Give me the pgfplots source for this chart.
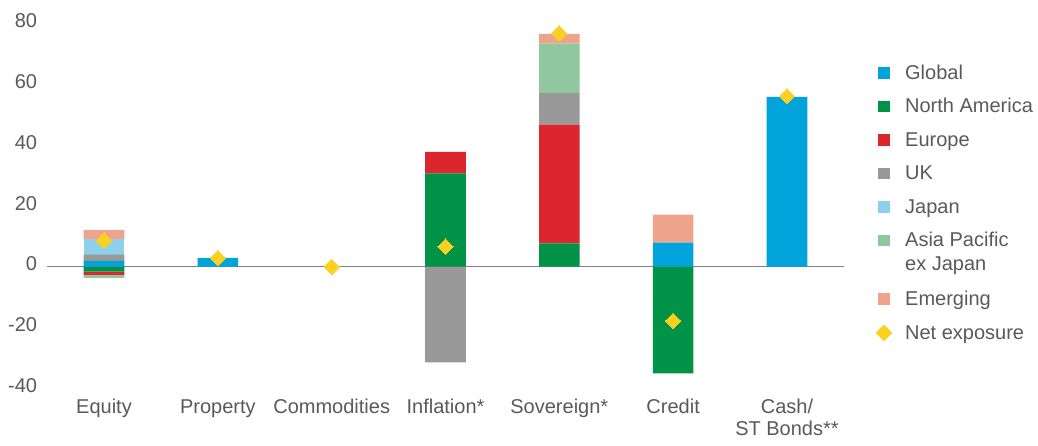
\documentclass[border=0pt]{standalone}
\usepackage{fontspec}
\setmainfont{Liberation Sans}
\usepackage{pgfplots}
\pgfplotsset{compat=1.18}
\definecolor{cglobal}{HTML}{00A3DA}
\definecolor{cna}{HTML}{009247}
\definecolor{ceu}{HTML}{DA262C}
\definecolor{cuk}{HTML}{999999}
\definecolor{cjp}{HTML}{8DD0EC}
\definecolor{cap}{HTML}{8FC89F}
\definecolor{cem}{HTML}{EDA48A}
\definecolor{netc}{HTML}{FCD022}
\definecolor{textc}{HTML}{595959}
\definecolor{zeroc}{HTML}{808080}
\pgfplotsset{sqlegend/.style={legend image code/.code={\fill[##1] (0pt,0.5pt) rectangle (12pt,12pt);}}}
\begin{document}
\fontsize{20}{22}\selectfont
\begin{tikzpicture}
\useasboundingbox (-47.1pt,-57.7pt) rectangle (990.9pt,388.3pt);
\begin{axis}[
  at={(0pt,0pt)}, anchor=south west, scale only axis,
  width=796.8pt, height=364.8pt,
  ybar stacked, stack negative=separate, bar width=40.6pt,
  xmin=-0.5, xmax=6.5, ymin=-40, ymax=80,
  xtick={0,1,2,3,4,5,6},
  xticklabels={Equity,Property,Commodities,Inflation*,Sovereign*,Credit,{\begin{tabular}[t]{@{}c@{}}Cash/\\ST Bonds**\end{tabular}}},
  ytick={-40,-20,0,20,40,60,80},
  axis line style={draw=none}, major tick length=0pt,
  tick label style={font=\fontsize{20}{22}\selectfont, text=textc},
  xticklabel style={anchor=base, yshift=-25.2pt, inner sep=0pt},
  yticklabel style={anchor=base east, xshift=-9.8pt, yshift=-4.3pt, inner sep=0pt},
  /pgf/number format/assume math mode=true,
  legend style={at={(1.040,0.886)}, anchor=north west, draw=none, fill=none,
    inner sep=0pt, outer sep=0pt, row sep=14.5pt, column sep=13pt,
    font=\fontsize{20}{24}\selectfont, text=textc,
    nodes={inner sep=0pt, anchor=base west, text height=14pt, text depth=5pt}},
  clip=false,
]
\addplot[fill=cglobal, draw=none, sqlegend] coordinates {(0,1.9) (1,2.9) (2,0) (3,0) (4,0) (5,7.9) (6,55.9)};
\addlegendentry{Global}
\addplot[fill=cna, draw=none, sqlegend] coordinates {(0,-1.6) (1,0) (2,0) (3,30.7) (4,7.7) (5,-35.1) (6,0)};
\addlegendentry{North America}
\addplot[fill=ceu, draw=none, sqlegend] coordinates {(0,-1.1) (1,0) (2,0) (3,7.1) (4,39.0) (5,0) (6,0)};
\addlegendentry{Europe}
\addplot[fill=cuk, draw=none, sqlegend] coordinates {(0,2.05) (1,0) (2,0) (3,-31.5) (4,10.5) (5,0) (6,0)};
\addlegendentry{UK}
\addplot[fill=cjp, draw=none, sqlegend] coordinates {(0,5.05) (1,0) (2,0) (3,0) (4,0) (5,0) (6,0)};
\addlegendentry{Japan}
\addplot[fill=cap, draw=none, sqlegend] coordinates {(0,-1.0) (1,0) (2,0) (3,0) (4,16.2) (5,0) (6,0)};
\addlegendentry[text depth=30pt]{\begin{tabular}[t]{@{}l@{}}Asia Pacific\\ex Japan\end{tabular}}
\addplot[fill=cem, draw=none, sqlegend] coordinates {(0,3.1) (1,0) (2,0) (3,0) (4,3.2) (5,9.2) (6,0)};
\addlegendentry{Emerging}
\addplot[stack plots=false, sharp plot, only marks, color=netc, mark=square*, mark size=5.4pt,
  mark options={rotate=45, fill=netc, draw=netc, line width=0pt},
  legend image code/.code={\fill[netc] (6pt,-1.5pt) -- (14pt,6.5pt) -- (6pt,14.5pt) -- (-2pt,6.5pt) -- cycle;}]
  coordinates {(0,8.6) (1,2.9) (2,0) (3,6.6) (4,76.8) (5,-17.8) (6,56.1)};
\addlegendentry{Net exposure}
\draw[color=zeroc, line width=1.3pt] (axis cs:-0.5,0) -- (axis cs:6.5,0);
\end{axis}
\end{tikzpicture}
\end{document}
